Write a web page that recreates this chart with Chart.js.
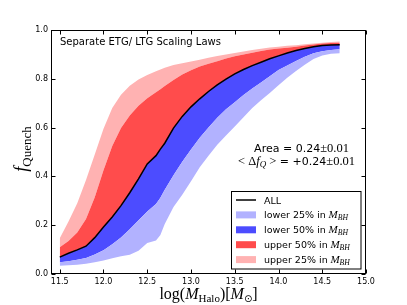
<!DOCTYPE html>
<html><head><meta charset="utf-8">
<script src="https://cdn.jsdelivr.net/npm/chart.js@4.4.1/dist/chart.umd.min.js"></script>
<style>html,body{margin:0;padding:0;background:#fff;}canvas{display:block;}</style>
</head><body>
<canvas id="c" width="407" height="305"></canvas>
<script>
// ---- data ----
const haloMass = [11.5,11.6,11.7,11.8,11.9,12.0,12.1,12.2,12.3,12.4,12.5,12.6,12.65,12.7,12.8,12.9,13.0,13.1,13.2,13.3,13.4,13.5,13.6,13.7,13.8,13.9,14.0,14.1,14.2,14.3,14.4,14.5,14.6,14.7];
const fAll     = [0.069,0.085,0.099,0.114,0.149,0.193,0.234,0.280,0.333,0.390,0.451,0.485,0.512,0.536,0.598,0.646,0.685,0.718,0.748,0.775,0.799,0.820,0.838,0.854,0.868,0.882,0.894,0.906,0.916,0.924,0.931,0.936,0.939,0.940];
const fUpper25 = [0.147,0.215,0.290,0.385,0.490,0.595,0.680,0.735,0.772,0.797,0.816,0.831,0.838,0.845,0.857,0.864,0.871,0.878,0.886,0.893,0.900,0.906,0.912,0.918,0.923,0.928,0.931,0.935,0.938,0.942,0.945,0.948,0.951,0.953];
const fUpper50 = [0.110,0.135,0.170,0.225,0.315,0.425,0.525,0.598,0.650,0.690,0.720,0.745,0.757,0.770,0.795,0.818,0.835,0.850,0.862,0.872,0.883,0.892,0.900,0.907,0.914,0.920,0.924,0.927,0.931,0.936,0.941,0.945,0.947,0.948];
const fLower50 = [0.048,0.052,0.058,0.066,0.080,0.097,0.122,0.150,0.183,0.220,0.256,0.287,0.312,0.345,0.405,0.460,0.510,0.558,0.600,0.640,0.675,0.704,0.734,0.760,0.785,0.810,0.836,0.855,0.873,0.890,0.905,0.913,0.918,0.921];
const fLower25 = [0.034,0.036,0.038,0.042,0.048,0.055,0.065,0.073,0.079,0.095,0.127,0.137,0.160,0.205,0.275,0.325,0.380,0.437,0.485,0.530,0.568,0.605,0.642,0.680,0.712,0.742,0.774,0.804,0.832,0.858,0.881,0.895,0.903,0.905];
const xTicks = [11.5,12.0,12.5,13.0,13.5,14.0,14.5,15.0];
const yTicks = [0.0,0.2,0.4,0.6,0.8,1.0];
const legendLabels = ['ALL','lower 25% in','lower 50% in','upper 50% in','upper 25% in'];
const panelTitle = 'Separate ETG/ LTG Scaling Laws';
const areaText = 'Area = 0.24';
const deltaText = ' = +0.24';
const errText = '\u00b10.01';

const C = {lo25:'#b2b2ff', lo50:'#4c4cff', up50:'#ff4c4c', up25:'#ffb2b2'};
const pts = arr => haloMass.map((x,i)=>({x, y: arr[i]}));

const SERIF = '"Liberation Serif", "DejaVu Serif", serif';
const SANS = '"DejaVu Sans", sans-serif';

function drawRuns(ctx, runs, x, y, align) {
  let w = 0;
  runs.forEach(r => { ctx.font = r.f; r.w = ctx.measureText(r.t).width; w += r.w; });
  let cx = align === 'center' ? x - w/2 : (align === 'right' ? x - w : x);
  ctx.textAlign = 'left'; ctx.textBaseline = 'alphabetic';
  runs.forEach(r => { ctx.font = r.f; ctx.fillText(r.t, cx, y + (r.dy||0)); cx += r.w; });
  return w;
}
const mbh = (size) => [
  {t:' M', f:'italic '+size+'px '+SERIF},
  {t:'BH', f:'italic '+(size*0.7)+'px '+SERIF, dy:2}
];

const decor = {
  id:'decor',
  afterDatasetsDraw(chart) {
    const {ctx, chartArea:{left,right,top,bottom}, scales:{x,y}} = chart;
    ctx.save();
    ctx.strokeStyle = '#000'; ctx.lineWidth = 1;
    const L = Math.round(left)+0.5, R = Math.round(right)-0.5, T = Math.round(top)+0.5, B = Math.round(bottom)-0.5;
    ctx.strokeRect(L, T, R-L, B-T);
    ctx.beginPath();
    xTicks.forEach(v => {
      const p = Math.round(x.getPixelForValue(v))+0.5;
      ctx.moveTo(p, B); ctx.lineTo(p, B-4);
      ctx.moveTo(p, T); ctx.lineTo(p, T+4);
    });
    yTicks.forEach(v => {
      const p = Math.round(y.getPixelForValue(v))+0.5;
      ctx.moveTo(L, p); ctx.lineTo(L+4, p);
      ctx.moveTo(R, p); ctx.lineTo(R-4, p);
    });
    ctx.stroke();
    ctx.restore();
  },
  afterDraw(chart) {
    const {ctx, chartArea:{left,right,top,bottom}} = chart;
    ctx.save();
    ctx.fillStyle = '#000';
    // panel title
    drawRuns(ctx, [{t:panelTitle, f:'10px '+SANS}], 60, 45, 'left');
    // annotation
    drawRuns(ctx, [{t:areaText, f:'11px '+SANS}, {t:errText, f:'12.5px '+SERIF}], 301.5, 152, 'center');
    drawRuns(ctx, [
      {t:'< \u0394', f:'12.5px '+SERIF},
      {t:'f', f:'italic 12.5px '+SERIF},
      {t:'Q', f:'italic 9px '+SERIF, dy:2},
      {t:' >', f:'12.5px '+SERIF},
      {t:deltaText, f:'11px '+SANS},
      {t:errText, f:'12.5px '+SERIF}
    ], 296.5, 165, 'center');
    // legend
    const ds = chart.data.datasets;
    const bx = 231.5, by = 191.5, bw = 129.5, bh = 77.5;
    ctx.fillStyle = '#fff'; ctx.fillRect(bx, by, bw, bh);
    ctx.strokeStyle = '#000'; ctx.lineWidth = 1; ctx.strokeRect(bx, by, bw, bh);
    const order = [2, 0, 1, 3, 4];
    order.forEach((di, i) => {
      const cy = 200 + i*14.9;
      const d = ds[di];
      if (di === 2) {
        ctx.strokeStyle = d.borderColor; ctx.lineWidth = 1.5;
        ctx.beginPath(); ctx.moveTo(236, cy); ctx.lineTo(256, cy); ctx.stroke();
      } else {
        ctx.fillStyle = d.backgroundColor; ctx.fillRect(236, cy-3.5, 20, 7);
      }
      ctx.fillStyle = '#000';
      const runs = [{t:legendLabels[i], f:'9.5px '+SANS}];
      if (i > 0) runs.push(...mbh(11));
      drawRuns(ctx, runs, 264, cy+3.5, 'left');
    });
    // x title
    drawRuns(ctx, [
      {t:'log(', f:'16px '+SERIF},
      {t:'M', f:'italic 16px '+SERIF},
      {t:'Halo', f:'11px '+SERIF, dy:3},
      {t:')[', f:'16px '+SERIF},
      {t:'M', f:'italic 16px '+SERIF},
      {t:'\u2299', f:'10px '+SANS, dy:3},
      {t:']', f:'16px '+SERIF}
    ], (left+right)/2, 299, 'center');
    // y title
    ctx.translate(27, (top+bottom)/2 - 3);
    ctx.rotate(-Math.PI/2);
    drawRuns(ctx, [
      {t:'f', f:'italic 18px '+SERIF},
      {t:'Quench', f:'13px '+SERIF, dy:4}
    ], 0, 0, 'center');
    ctx.restore();
  }
};

new Chart(document.getElementById('c'), {
  type: 'line',
  data: {
    datasets: [
      {label:'lower 25%', data:pts(fLower25), fill:'+1', backgroundColor:C.lo25, borderColor:'transparent', borderWidth:0, pointRadius:0, order:1},
      {label:'lower 50%', data:pts(fLower50), fill:'+1', backgroundColor:C.lo50, borderColor:'transparent', borderWidth:0, pointRadius:0, order:1},
      {label:'ALL', data:pts(fAll), fill:false, borderColor:'#000', backgroundColor:'#000', borderWidth:1.5, pointRadius:0, order:0},
      {label:'upper 50%', data:pts(fUpper50), fill:'-1', backgroundColor:C.up50, borderColor:'transparent', borderWidth:0, pointRadius:0, order:1},
      {label:'upper 25%', data:pts(fUpper25), fill:'-1', backgroundColor:C.up25, borderColor:'transparent', borderWidth:0, pointRadius:0, order:1}
    ]
  },
  options: {
    responsive:false, animation:false, devicePixelRatio:1,
    layout:{padding:{top:30, right:41, left:0, bottom:0}},
    plugins:{legend:{display:false}, tooltip:{enabled:false}},
    elements:{line:{tension:0}},
    scales:{
      x:{type:'linear', min:11.4, max:15.0,
        afterBuildTicks: s => { s.ticks = xTicks.map(v => ({value:v})); },
        afterFit: s => { s.height = 31; },
        grid:{display:false, drawTicks:false}, border:{display:false},
        ticks:{font:{family:'DejaVu Sans', size:8}, color:'#000', padding:3, maxRotation:0, autoSkip:false, callback: v => Number(v).toFixed(1)}
      },
      y:{min:0, max:1,
        afterBuildTicks: s => { s.ticks = yTicks.map(v => ({value:v})); },
        afterFit: s => { s.width = 51; },
        grid:{display:false, drawTicks:false}, border:{display:false},
        ticks:{font:{family:'DejaVu Sans', size:8}, color:'#000', padding:3, autoSkip:false, callback: v => Number(v).toFixed(1)}
      }
    }
  },
  plugins:[decor]
});
</script>
</body></html>
